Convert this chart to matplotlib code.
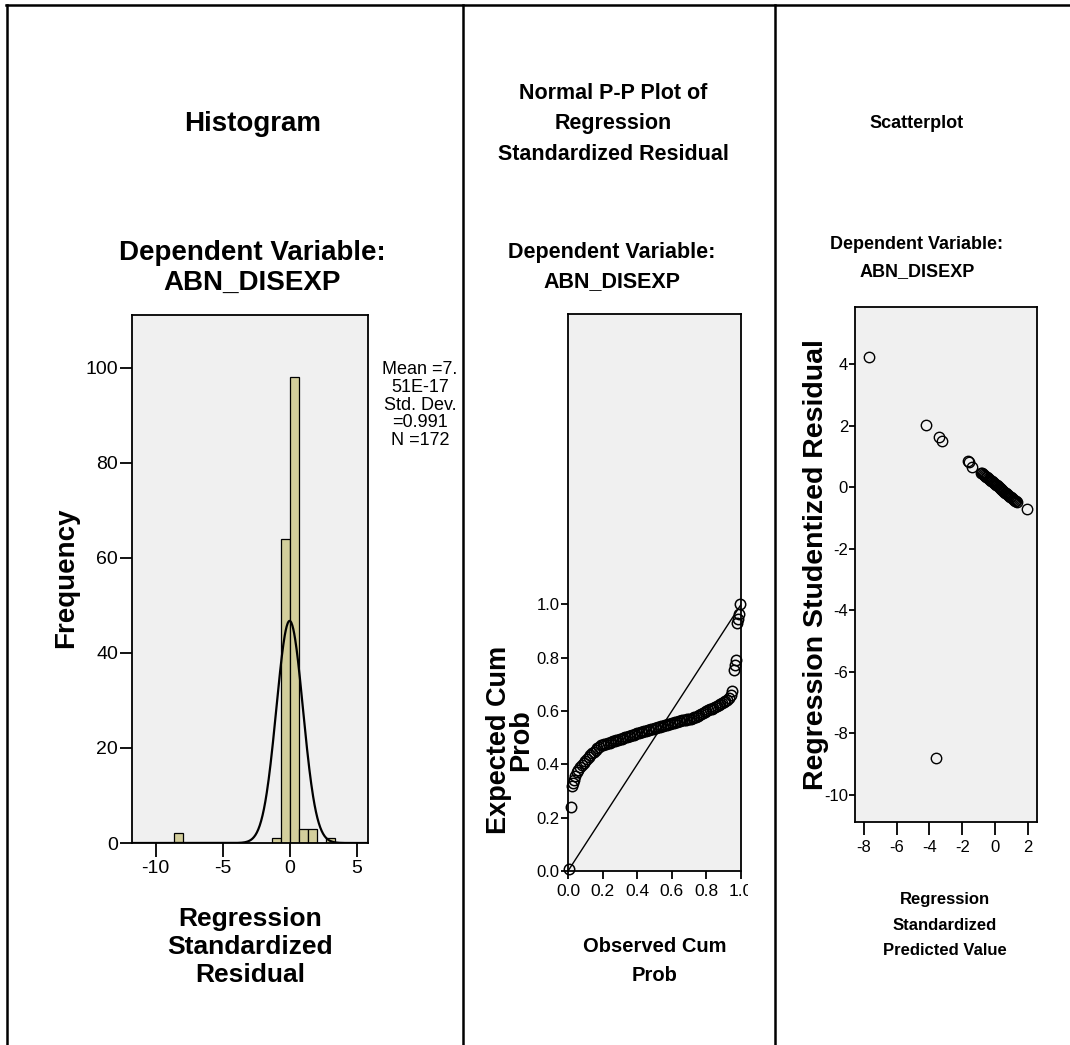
import numpy as np
import matplotlib
matplotlib.use('Agg')
import matplotlib.pyplot as plt
from matplotlib.lines import Line2D
from matplotlib.transforms import Bbox

W, H = 1070, 1045

# histogram of regression standardized residuals
bin_left = [-8.66, -1.34, -0.67, 0.0, 0.68, 1.36, 2.72]
bin_count = [2, 1, 64, 98, 3, 3, 1]
bin_width = 0.675
res_mean = 7.51e-17
res_sd = 0.991
res_n = 172

# normal P-P plot: observed vs expected cumulative probability
pp_obs = [0.006, 0.019, 0.025, 0.031, 0.035,
          0.04, 0.05, 0.06, 0.07, 0.08, 0.09, 0.10, 0.11, 0.12, 0.13,
          0.14, 0.15, 0.16, 0.17, 0.18, 0.19, 0.20, 0.21, 0.22, 0.23,
          0.24, 0.25, 0.26, 0.27, 0.28, 0.29, 0.30, 0.31, 0.32, 0.33,
          0.34, 0.35, 0.36, 0.37, 0.38, 0.39, 0.40, 0.41, 0.42, 0.43,
          0.44, 0.45, 0.46, 0.47, 0.48, 0.49, 0.50, 0.51, 0.52, 0.53,
          0.54, 0.55, 0.56, 0.57, 0.58, 0.59, 0.60, 0.61, 0.62, 0.63,
          0.64, 0.65, 0.66, 0.67, 0.68, 0.69, 0.70, 0.71, 0.72, 0.73,
          0.74, 0.75, 0.76, 0.77, 0.78, 0.79, 0.80, 0.81, 0.82, 0.83,
          0.84, 0.85, 0.86, 0.87, 0.88, 0.89, 0.90, 0.91, 0.92, 0.93,
          0.94, 0.95,
          0.960, 0.963, 0.969, 0.975, 0.981, 0.988, 0.994]
pp_exp = [0.006, 0.240, 0.318, 0.330, 0.340,
          0.355, 0.370, 0.380, 0.390, 0.398, 0.405, 0.412, 0.420, 0.427, 0.434,
          0.441, 0.448, 0.455, 0.462, 0.467, 0.471, 0.474, 0.476, 0.478, 0.480,
          0.482, 0.484, 0.486, 0.488, 0.490, 0.492, 0.494, 0.497, 0.499, 0.502,
          0.504, 0.506, 0.508, 0.510, 0.512, 0.514, 0.516, 0.518, 0.520, 0.522,
          0.524, 0.526, 0.528, 0.530, 0.532, 0.534, 0.536, 0.537, 0.539, 0.541,
          0.543, 0.545, 0.547, 0.549, 0.551, 0.553, 0.555, 0.556, 0.558, 0.560,
          0.562, 0.563, 0.565, 0.566, 0.568, 0.569, 0.571, 0.572, 0.574, 0.576,
          0.578, 0.581, 0.585, 0.589, 0.593, 0.597, 0.600, 0.603, 0.606, 0.609,
          0.612, 0.615, 0.618, 0.621, 0.625, 0.629, 0.633, 0.638, 0.643, 0.650,
          0.660, 0.675,
          0.755, 0.774, 0.790, 0.929, 0.944, 0.966, 1.000]

# residual scatterplot: standardized predicted vs studentized residual
pred_std = [-7.72, -4.22, -3.41, -3.23, -1.66, -1.56, -1.39,
            -0.85, -0.80, -0.74, -0.68, -0.62, -0.56, -0.50, -0.44, -0.38, -0.32,
            -0.26, -0.20, -0.14, -0.08, -0.02, 0.04, 0.10, 0.16, 0.22, 0.28,
            0.34, 0.40, 0.46, 0.52, 0.58, 0.64, 0.70, 0.76, 0.82, 0.88,
            0.94, 1.00, 1.06, 1.12, 1.18, 1.24, 1.30, 1.37,
            1.94, -3.58]
resid_stud = [4.24, 2.02, 1.62, 1.51, 0.85, 0.81, 0.66,
              0.48, 0.46, 0.43, 0.41, 0.38, 0.35, 0.33, 0.30, 0.28, 0.25,
              0.22, 0.20, 0.17, 0.15, 0.12, 0.09, 0.07, 0.04, 0.02, -0.01,
              -0.04, -0.06, -0.09, -0.11, -0.14, -0.17, -0.19, -0.22, -0.24, -0.27,
              -0.30, -0.32, -0.35, -0.38, -0.40, -0.43, -0.45, -0.48,
              -0.72, -8.80]

BAR_COLOR = '#D3CE9C'
PANEL_BG = '#F0F0F0'

plt.rcParams['font.family'] = ['Liberation Sans', 'DejaVu Sans']
plt.rcParams['axes.linewidth'] = 1.3
plt.rcParams['axes.unicode_minus'] = False


def fpos(x, y):
    # pixel position (from top-left) to figure fraction
    return x / W, 1 - y / H


def add_axes_px(left, top, right, bottom):
    x0, y0 = fpos(left, bottom)
    return fig.add_axes([x0, y0, (right - left) / W, (bottom - top) / H])


def place_label(axis, x, y):
    axis.set_label_coords(*fpos(x, y), transform=fig.transFigure)
    axis.label.set_va('center')
    axis.label.set_ha('center')


fig = plt.figure(figsize=(W / 100, H / 100), dpi=100)

# frame lines around the three panels
frame_kw = dict(color='black', linewidth=1.8, transform=fig.transFigure)
fig.add_artist(Line2D([6 / W, 1.0], [1 - 5 / H] * 2, **frame_kw))
for xl in (6.5, 463, 775):
    fig.add_artist(Line2D([xl / W] * 2, [0.0, 1 - 5 / H], **frame_kw))

# ---- Histogram ----
ax1 = add_axes_px(132, 315, 368, 843)
ax1.set_facecolor(PANEL_BG)
ax1.bar(bin_left, bin_count, width=bin_width, align='edge',
        color=BAR_COLOR, edgecolor='black', linewidth=0.9, zorder=2)
xs = np.linspace(-11.77, 5.85, 500)
scale = res_n * bin_width / (res_sd * np.sqrt(2 * np.pi))
ax1.plot(xs, scale * np.exp(-0.5 * ((xs - res_mean) / res_sd) ** 2),
         color='black', linewidth=1.6, zorder=3)
ax1.set_xlim(-11.77, 5.85)
ax1.set_ylim(0, 111.1)
ax1.set_xticks([-10, -5, 0, 5])
ax1.set_yticks([0, 20, 40, 60, 80, 100])
ax1.tick_params(axis='x', length=10, width=1.3, pad=2, labelsize=14)
ax1.tick_params(axis='y', length=9, width=1.3, pad=1, labelsize=14)
ax1.set_ylabel('Frequency', fontsize=20, fontweight='bold')
place_label(ax1.yaxis, 66, 578)
ax1.set_xlabel('Regression\nStandardized\nResidual', fontsize=19,
               fontweight='bold', linespacing=1.21)
place_label(ax1.xaxis, 250, 947)

fig.text(*fpos(253, 124), 'Histogram', ha='center', va='center',
         fontsize=20, fontweight='bold')
fig.text(*fpos(252, 268), 'Dependent Variable:\nABN_DISEXP', ha='center',
         va='center', fontsize=20, fontweight='bold', linespacing=1.19)
fig.text(*fpos(420, 405), 'Mean =7.\n51E-17\nStd. Dev.\n=0.991\nN =172',
         ha='center', va='center', fontsize=13, linespacing=1.06)

# ---- Normal P-P plot ----
ax2 = add_axes_px(568, 314, 741, 871)
ax2.set_facecolor(PANEL_BG)
ax2.plot([0, 1], [0, 1], color='black', linewidth=1.0, zorder=2)
ax2.plot(pp_obs, pp_exp, linestyle='none', marker='o', markersize=7.5,
         markerfacecolor='none', markeredgecolor='black',
         markeredgewidth=1.1, zorder=3, clip_on=False)
ax2.set_xlim(0, 1.0)
ax2.set_ylim(0, 2.09)
ax2.set_xticks([0.0, 0.2, 0.4, 0.6, 0.8, 1.0])
ax2.set_yticks([0.0, 0.2, 0.4, 0.6, 0.8, 1.0])
ax2.xaxis.set_major_formatter(plt.FormatStrFormatter('%.1f'))
ax2.yaxis.set_major_formatter(plt.FormatStrFormatter('%.1f'))
ax2.tick_params(axis='x', length=6, width=1.3, pad=3, labelsize=12.5)
ax2.tick_params(axis='y', length=5, width=1.3, pad=1, labelsize=12)
# last x tick label is cut at the panel edge
for lab in ax2.get_xticklabels():
    lab.set_clip_box(Bbox.from_extents(0, 0, 748, H))
    lab.set_clip_on(True)
ax2.set_ylabel('Expected Cum\nProb', fontsize=19.5, fontweight='bold',
               linespacing=0.8)
place_label(ax2.yaxis, 510, 740)
ax2.set_xlabel('Observed Cum\nProb', fontsize=14.5, fontweight='bold',
               linespacing=1.69)
place_label(ax2.xaxis, 655, 961)

fig.text(*fpos(613, 124), 'Normal P-P Plot of\nRegression\nStandardized Residual',
         ha='center', va='center', fontsize=15.5, fontweight='bold',
         linespacing=1.58)
fig.text(*fpos(612, 267), 'Dependent Variable:\nABN_DISEXP', ha='center',
         va='center', fontsize=15.5, fontweight='bold', linespacing=1.53)

# ---- Scatterplot ----
ax3 = add_axes_px(855, 307, 1037, 822)
ax3.set_facecolor(PANEL_BG)
ax3.plot(pred_std, resid_stud, linestyle='none', marker='o', markersize=7.5,
         markerfacecolor='none', markeredgecolor='black',
         markeredgewidth=1.0, zorder=3)
ax3.set_xlim(-8.55, 2.57)
ax3.set_ylim(-10.88, 5.86)
ax3.set_xticks([-8, -6, -4, -2, 0, 2])
ax3.set_yticks([-10, -8, -6, -4, -2, 0, 2, 4])
ax3.tick_params(axis='x', length=9, width=1.3, pad=4, labelsize=12)
ax3.tick_params(axis='y', length=4, width=1.3, pad=1, labelsize=12)
ax3.set_ylabel('Regression Studentized Residual', fontsize=20.5,
               fontweight='bold')
place_label(ax3.yaxis, 816, 565)
ax3.set_xlabel('Regression\nStandardized\nPredicted Value', fontsize=12,
               fontweight='bold', linespacing=1.91)
place_label(ax3.xaxis, 945, 925)

fig.text(*fpos(917, 123), 'Scatterplot', ha='center', va='center',
         fontsize=13, fontweight='bold')
fig.text(*fpos(917, 258), 'Dependent Variable:\nABN_DISEXP', ha='center',
         va='center', fontsize=13, fontweight='bold', linespacing=1.76)

fig.savefig('out.png', dpi=100, facecolor='white')
